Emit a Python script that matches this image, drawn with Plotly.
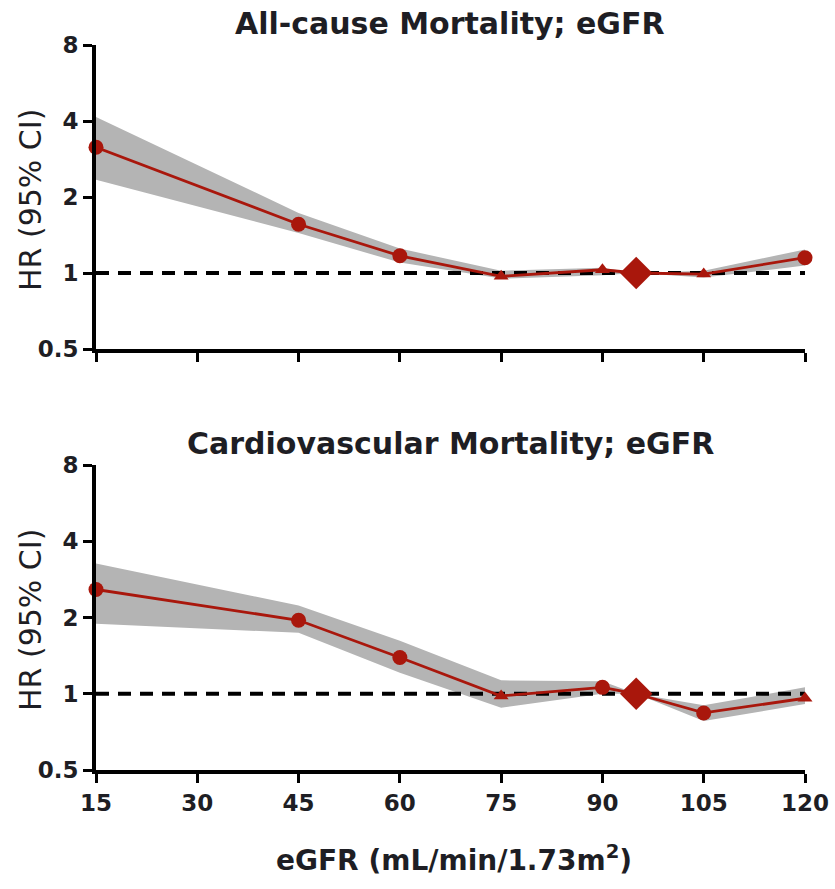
import math
import plotly.graph_objects as go

# ---------------- data ----------------
egfr = [15, 45, 60, 75, 90, 95, 105, 120]

allcause_hr = [3.15, 1.56, 1.17, 0.97, 1.03, 1.00, 0.99, 1.15]
allcause_lo = [2.34, 1.44, 1.10, 0.95, 0.98, 1.00, 0.96, 1.07]
allcause_hi = [4.15, 1.73, 1.25, 1.02, 1.05, 1.00, 1.02, 1.24]

cv_hr = [2.58, 1.95, 1.39, 0.98, 1.06, 1.00, 0.84, 0.96]
cv_lo = [1.89, 1.74, 1.21, 0.88, 1.00, 1.00, 0.78, 0.91]
cv_hi = [3.27, 2.23, 1.62, 1.13, 1.12, 1.00, 0.90, 1.06]

ref_hr = 1
y_ticks = [0.5, 1, 2, 4, 8]
y_ticklabels = ["0.5", "1", "2", "4", "8"]
x_ticks = [15, 30, 45, 60, 75, 90, 105, 120]

titles = ["All-cause Mortality; eGFR", "Cardiovascular Mortality; eGFR"]
y_title = "HR (95% CI)"
x_title = "eGFR (mL/min/1.73m<sup>2</sup>)"

# ---------------- style ----------------
RED = "#a9170c"
BAND = "rgb(180,180,180)"
FONT = "DejaVu Sans, Liberation Sans, Arial, sans-serif"
TXT = "#1e1e24"
sym_top = ["circle", "circle", "circle", "triangle-up", "triangle-up", "diamond", "triangle-up", "circle"]
sym_bot = ["circle", "circle", "circle", "triangle-up", "circle", "diamond", "circle", "triangle-up"]


def msize(sym):
    return {"circle": 15, "triangle-up": 13, "diamond": 25}[sym]


fig = go.Figure()

panels = [
    (allcause_hr, allcause_lo, allcause_hi, sym_top, "x", "y"),
    (cv_hr, cv_lo, cv_hi, sym_bot, "x2", "y2"),
]
for hr, lo, hi, syms, xa, ya in panels:
    fig.add_trace(go.Scatter(x=egfr, y=lo, mode="lines", line=dict(width=0, color=BAND),
                             xaxis=xa, yaxis=ya, showlegend=False, hoverinfo="skip"))
    fig.add_trace(go.Scatter(x=egfr, y=hi, mode="lines", line=dict(width=0, color=BAND),
                             fill="tonexty", fillcolor=BAND,
                             xaxis=xa, yaxis=ya, showlegend=False, hoverinfo="skip"))
    fig.add_trace(go.Scatter(x=[egfr[0], egfr[-1]], y=[ref_hr, ref_hr], mode="lines",
                             line=dict(color="black", width=4, dash="13px,9px"),
                             xaxis=xa, yaxis=ya, showlegend=False, cliponaxis=False))
    fig.add_trace(go.Scatter(x=egfr, y=hr, mode="lines+markers",
                             line=dict(color=RED, width=2.8),
                             marker=dict(color=RED, symbol=syms, size=[msize(s) for s in syms],
                                         opacity=1, line=dict(width=0, color=RED)),
                             xaxis=xa, yaxis=ya, showlegend=False, cliponaxis=False))

W, H = 835, 889
ml, mr, mt, mb = 96, 30, 45, 119
ph = H - mt - mb
top_dom = [(770 - 349) / ph, 1.0]
bot_dom = [0.0, (770 - 465) / ph]

axis_common = dict(showline=True, linewidth=4, linecolor="black", ticks="outside",
                   ticklen=9, tickwidth=3, tickcolor="black", showgrid=False, zeroline=False,
                   automargin=False, ticklabeloverflow="allow",
                   tickfont=dict(family=FONT, size=23, color=TXT, weight="bold"))

yrange = [math.log10(0.5), math.log10(8)]

fig.update_layout(
    width=W, height=H,
    margin=dict(l=ml, r=mr, t=mt, b=mb),
    paper_bgcolor="white", plot_bgcolor="white",
    xaxis=dict(**axis_common, range=[15, 120], tickvals=x_ticks, showticklabels=False,
               anchor="y", domain=[0, 1]),
    yaxis=dict(**axis_common, type="log", range=yrange, tickvals=y_ticks, ticktext=y_ticklabels,
               domain=top_dom, anchor="x"),
    xaxis2=dict(**axis_common, range=[15, 120], tickvals=x_ticks, anchor="y2", domain=[0, 1]),
    yaxis2=dict(**axis_common, type="log", range=yrange, tickvals=y_ticks, ticktext=y_ticklabels,
                domain=bot_dom, anchor="x2"),
)


def px_x(px):
    return (px - ml) / (W - ml - mr)


def px_y(py):
    return (H - mb - py) / ph


ann = [
    dict(text=titles[0], x=px_x(450), y=px_y(24), font=dict(size=30, weight="bold")),
    dict(text=titles[1], x=px_x(450), y=px_y(444), font=dict(size=30, weight="bold")),
    dict(text=x_title, x=px_x(454), y=px_y(858), font=dict(size=28, weight="bold")),
    dict(text=y_title, x=px_x(30), y=px_y(200), textangle=-90, font=dict(size=30)),
    dict(text=y_title, x=px_x(30), y=px_y(620), textangle=-90, font=dict(size=30)),
]
for a in ann:
    a["font"].update(family=FONT, color=TXT)
    fig.add_annotation(xref="paper", yref="paper", showarrow=False,
                       xanchor="center", yanchor="middle", **a)

fig.write_html("out.html")
